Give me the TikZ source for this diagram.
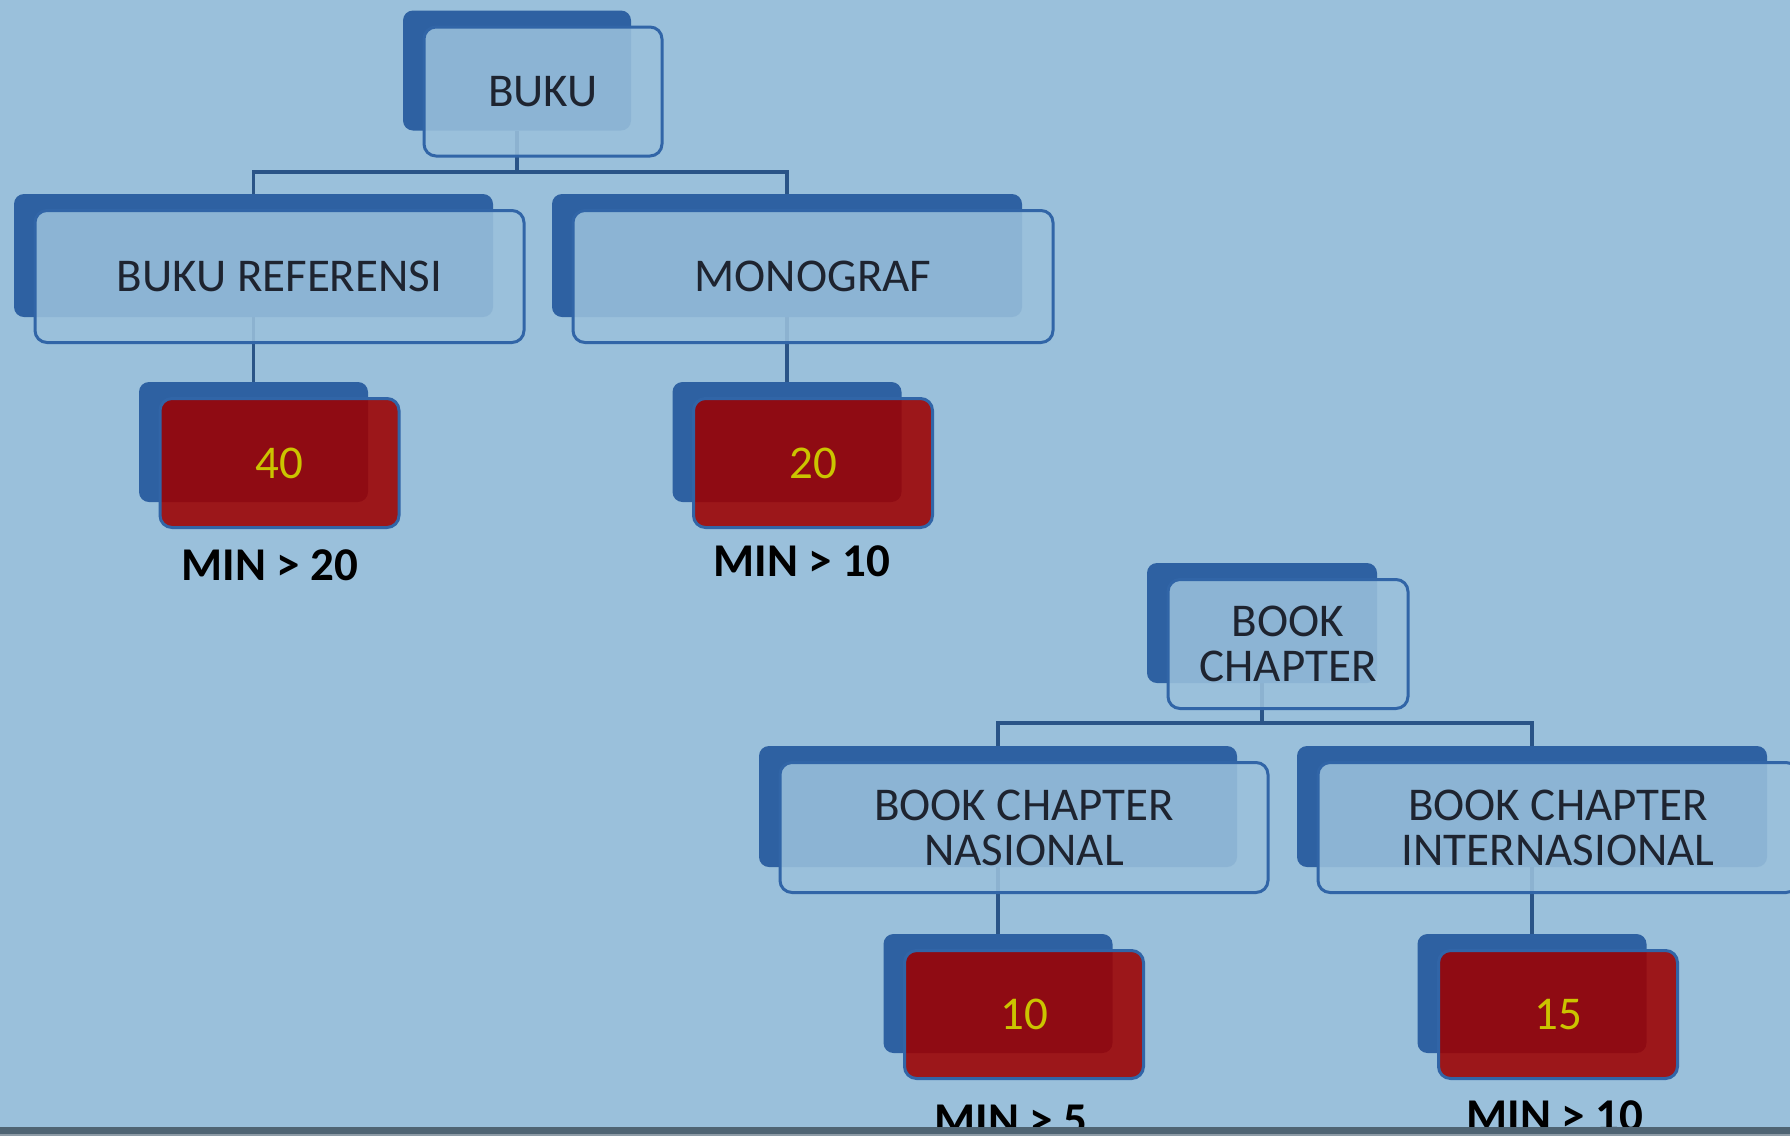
\documentclass[tikz,border=0pt]{standalone}
\usepackage{fontspec}
\setmainfont{Carlito}
\pgfdeclarelayer{canvas}
\pgfdeclarelayer{wires}
\pgfsetlayers{canvas,wires,main}
\definecolor{bgc}{HTML}{9AC0DB}
\definecolor{bluebk}{HTML}{2E61A2}
\definecolor{edgeb}{HTML}{3165A7}
\definecolor{wire}{HTML}{2A5487}
\definecolor{redf}{HTML}{9D0000}
\definecolor{numc}{HTML}{CBC400}
\definecolor{txt}{HTML}{1E2430}
\definecolor{barc}{HTML}{4F6473}
\definecolor{barl}{HTML}{8D9BA6}
\tikzset{
  lback/.style={fill=bluebk, rounded corners=10pt, inner sep=0pt, outer sep=0pt},
  lfront/.style={fill=bgc, fill opacity=0.88, text opacity=1, draw=edgeb, line width=3pt,
    rounded corners=12pt, inner sep=0pt, outer sep=0pt, text=txt,
    font=\fontsize{47}{45}\selectfont, align=center},
  rback/.style={lback},
  rfront/.style={lfront, fill=redf, text=numc},
  minlbl/.style={font=\bfseries\fontsize{47}{50}\selectfont, text=black, inner sep=0pt},
  wirel/.style={draw=wire, line width=3.5pt},
}
\newcommand\dblbox[7]{%
  \node[#6back, minimum width=#4pt, minimum height=#5pt] (#1b) at (#2,#3) {};
  \node[#6front, minimum width=#4pt+10pt, minimum height=#5pt+9pt] (#1f) at (#2+26,#3+21) {#7};}
\begin{document}
\begin{tikzpicture}[x=1pt,y=-1pt]
\useasboundingbox (0,0) rectangle (1790,1136);
\begin{pgfonlayer}{canvas}
  \fill[bgc] (0,0) rectangle (1790,1136);
\end{pgfonlayer}
\dblbox{buku}{517}{70.5}{228}{120}{l}{BUKU}
\dblbox{ref}{253.5}{255.5}{479}{123}{l}{BUKU REFERENSI}
\dblbox{mono}{787}{255.5}{470}{123}{l}{MONOGRAF}
\dblbox{nA}{253.5}{442}{229}{120}{r}{40}
\dblbox{nB}{787}{442}{229}{120}{r}{20}
\dblbox{bc}{1262}{623}{230}{120}{l}{BOOK\\CHAPTER}
\dblbox{nas}{998}{806.5}{478}{121}{l}{BOOK CHAPTER\\NASIONAL}
\dblbox{inter}{1532}{806.5}{470}{121}{l}{BOOK CHAPTER\\INTERNASIONAL}
\dblbox{nC}{998}{993.5}{229}{119}{r}{10}
\dblbox{nD}{1532}{993.5}{229}{119}{r}{15}
\node[minlbl] (mA) at (270,565) {MIN > 20};
\node[minlbl] (mB) at (802,561) {MIN > 10};
\node[minlbl] (mC) at (1011,1120) {MIN > 5};
\node[minlbl] (mD) at (1555,1116) {MIN > 10};
\begin{pgfonlayer}{wires}
  \coordinate (busA) at (517,172);
  \draw[wirel] (bukub.south) -- (busA);
  \draw[wirel] (refb.north) |- (busA) -| (monob.north);
  \draw[wirel] (refb.south) -- (nAb.north);
  \draw[wirel] (monob.south) -- (nBb.north);
  \coordinate (busB) at (1262,723);
  \draw[wirel] (bcb.south) -- (busB);
  \draw[wirel] (nasb.north) |- (busB) -| (interb.north);
  \draw[wirel] (nasb.south) -- (nCb.north);
  \draw[wirel] (interb.south) -- (nDb.north);
\end{pgfonlayer}
\fill[barc] (0,1127) rectangle (1790,1134);
\fill[barl] (0,1134) rectangle (1790,1136);
\end{tikzpicture}
\end{document}
